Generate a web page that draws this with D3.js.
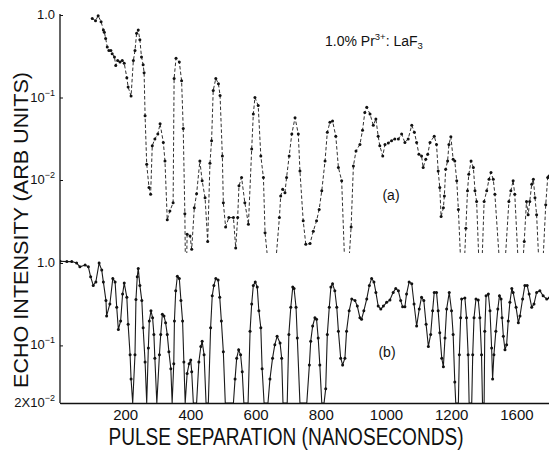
<!DOCTYPE html>
<html lang="en">
<head>
<meta charset="UTF-8">
<title>Echo intensity vs pulse separation</title>
<style>
  body { margin: 0; background: #fff; }
  svg { display: block; font-family: "Liberation Sans", Arial, sans-serif; }
  .curve-a { fill: none; stroke: #1a1a1a; stroke-width: 0.9; stroke-dasharray: 3.5,2.2; }
  .curve-b { fill: none; stroke: #1a1a1a; stroke-width: 1.1; }
  .dot { fill: #111; }
  .lbl { fill: #111; }
</style>
</head>
<body>
<script src="https://d3js.org/d3.v7.min.js"></script>
<script>
// curve (a): pulse separation (ns) and echo intensity, 0.0003 = off scale
const aNs = [99,109,117,126,133,136,140,145,150,156,160,167,171,177,184,191,197,205,209,218,
  225,230,235,240,245,250,255,258,261,266,273,278,283,291,300,307,317,322,329,337,347,
  350,356,366,373,378,383,386,390,399,404,412,419,429,436,445,453,460,465,470,478,486,491,
  498,501,508,518,532,539,545,549,557,567,578,588,593,598,608,616,624,629,651,673,677,683,
  690,695,703,711,721,731,736,746,754,767,777,787,795,803,813,820,828,836,846,854,864,878,
  893,900,908,920,928,935,941,951,961,969,976,981,990,997,1007,1017,1027,1038,1048,1058,
  1068,1079,1087,1094,1101,1109,1114,1122,1128,1135,1148,1155,1160,1165,1169,1176,1179,
  1183,1189,1193,1199,1206,1211,1217,1222,1235,1245,1250,1254,1261,1268,1273,1278,1290,
  1301,1309,1316,1322,1329,1334,1357,1377,1383,1390,1395,1412,1424,1431,1436,1441,1447,
  1452,1457,1462,1475,1490,1496,1500];
const aVal = [0.91,0.85,0.98,0.83,0.66,0.62,0.52,0.41,0.37,0.37,0.34,0.31,0.245,0.28,0.27,0.28,0.26,0.174,0.134,0.104,
  0.28,0.37,0.60,0.66,0.50,0.31,0.25,0.20,0.060,0.0155,0.0081,0.0067,0.026,0.0315,0.036,0.048,0.0285,0.017,0.0033,0.0042,0.0053,
  0.17,0.30,0.27,0.16,0.042,0.0039,0.0003,0.0022,0.0021,0.00145,0.0046,0.0068,0.017,0.0098,0.0061,0.0018,0.016,0.030,0.122,0.17,0.147,0.106,
  0.0196,0.0053,0.0027,0.0035,0.0035,0.0015,0.0035,0.0085,0.0107,0.0053,0.0029,0.0237,0.063,0.10,0.080,0.0196,0.0107,0.0023,0.0003,0.0035,0.0064,0.0077,
  0.0070,0.0107,0.0196,0.036,0.057,0.036,0.0129,0.0032,0.00166,0.0017,0.0024,0.0032,0.0044,0.0074,0.017,0.038,0.050,0.052,0.034,0.0142,0.0098,0.0003,
  0.0027,0.0148,0.0225,0.027,0.040,0.066,0.076,0.063,0.046,0.055,0.034,0.026,0.0196,0.027,0.028,0.030,0.0315,0.0315,0.036,0.0285,
  0.0315,0.046,0.038,0.0285,0.0205,0.0196,0.0142,0.0178,0.0205,0.0285,0.034,0.027,0.0129,0.0081,0.0036,0.0046,0.0064,
  0.0135,0.017,0.027,0.0335,0.0178,0.017,0.0098,0.0044,0.0003,0.0026,0.0074,0.0117,0.017,0.0142,0.0074,0.0055,0.0003,
  0.0055,0.0074,0.0102,0.0123,0.0102,0.0067,0.0003,0.0055,0.0074,0.0098,0.0067,0.0003,0.0018,0.0055,0.0038,0.0055,0.0089,
  0.0102,0.0061,0.0038,0.0003,0.0050,0.0107,0.0112];

// curve (b): 0.02 = down on the axis
const bNs = [0,21,36,51,61,77,87,94,102,110,120,128,133,141,143,153,162,169,174,179,186,192,197,205,209,215,218,223,
  230,233,237,240,245,251,255,261,266,271,274,279,284,288,291,297,305,309,314,319,324,329,334,340,344,
  349,351,355,360,366,371,376,380,384,390,396,401,404,409,419,426,432,436,442,448,455,462,467,472,478,485,490,495,501,507,
  532,537,542,548,554,559,564,577,583,588,593,599,605,610,616,620,626,638,644,652,659,666,675,680,684,
  697,702,708,714,718,724,728,736,757,765,769,775,782,787,792,797,803,810,815,820,826,831,836,843,849,854,861,867,
  874,879,887,895,905,912,920,925,932,941,949,956,963,969,976,984,992,1002,1012,1022,1030,1038,1045,1051,1058,
  1063,1071,1079,1086,1094,1102,1109,1116,1123,1130,1137,1143,1148,1155,1160,1165,1171,1176,1181,1186,1194,1201,1206,
  1211,1214,1222,1225,1229,1232,1242,1247,1252,1255,1263,1266,1270,1276,1283,1288,1293,1296,1301,1303,1307,1314,1319,
  1324,1327,1331,1337,1343,1348,1353,1356,1360,1365,1370,1375,1380,1386,1390,1399,1406,1411,1419,1426,1433,1439,1447,
  1454,1462,1472,1482,1493,1501];
const bVal = [1.05,1.04,1.04,1.0,0.90,0.945,0.90,0.68,0.535,0.59,1.0,0.82,0.59,0.35,0.228,0.318,0.65,0.59,0.29,0.156,0.198,0.42,0.57,0.384,0.18,0.077,0.039,0.02,
  0.077,0.36,0.68,0.86,0.535,0.35,0.164,0.063,0.02,0.093,0.198,0.263,0.217,0.136,0.070,0.02,0.077,0.136,0.239,0.228,0.188,0.136,0.084,0.052,0.02,
  0.060,0.198,0.46,0.69,0.65,0.35,0.198,0.063,0.02,0.0455,0.060,0.0666,0.048,0.02,0.02,0.063,0.097,0.112,0.077,0.02,0.02,0.164,0.40,0.535,0.65,0.62,0.384,0.198,0.084,0.02,
  0.02,0.039,0.070,0.0885,0.077,0.048,0.02,0.02,0.149,0.318,0.535,0.59,0.51,0.263,0.164,0.052,0.02,0.02,0.039,0.070,0.102,0.129,0.107,0.070,0.02,
  0.02,0.136,0.29,0.51,0.49,0.29,0.123,0.02,0.02,0.058,0.112,0.172,0.217,0.207,0.123,0.058,0.02,0.02,0.0297,0.136,0.29,0.51,0.56,0.46,0.29,0.149,0.070,0.058,
  0.070,0.149,0.263,0.366,0.35,0.30,0.217,0.207,0.263,0.366,0.535,0.65,0.59,0.44,0.30,0.276,0.30,0.333,0.356,0.44,0.49,0.46,0.35,0.294,0.294,
  0.42,0.59,0.56,0.318,0.172,0.276,0.384,0.35,0.18,0.097,0.136,0.263,0.44,0.44,0.263,0.142,0.070,0.055,0.123,0.276,0.44,0.263,0.136,
  0.036,0.02,0.02,0.077,0.217,0.366,0.377,0.217,0.077,0.02,0.02,0.077,0.217,0.366,0.356,0.217,0.077,0.02,0.02,0.149,0.40,0.42,0.263,
  0.093,0.039,0.077,0.149,0.276,0.40,0.366,0.217,0.129,0.0885,0.102,0.198,0.333,0.49,0.44,0.29,0.188,0.228,0.366,0.535,0.535,0.42,0.29,
  0.318,0.44,0.46,0.40,0.366,0.377];

const xTicks = [200, 400, 600, 800, 1000, 1200, 1400];
const xTickLabels = ["200", "400", "600", "800", "1000", "1200", "1600"];
const aTicks = [1, 0.1, 0.01];
const aTickBase = ["1.0", "10", "10"];
const aTickSup = ["", "\u22121", "\u22122"];
const bTicks = [1, 0.1, 0.02];
const bTickBase = ["1.0", "10", "2X10"];
const bTickSup = ["", "\u22121", "\u22122"];

const width = 549, height = 452;
const svg = d3.select("body").append("svg")
    .attr("width", width).attr("height", height);

const x = d3.scaleLinear().domain([0, 1500]).range([60, 549]);
const ya = d3.scaleLog().domain([1, 0.01]).range([15, 180]);
const yb = d3.scaleLog().domain([1, 0.02]).range([263, 403]);

// clip regions
const defs = svg.append("defs");
defs.append("clipPath").attr("id", "clipA").append("rect")
    .attr("x", 60).attr("y", 0).attr("width", 489).attr("height", 253);
defs.append("clipPath").attr("id", "clipB").append("rect")
    .attr("x", 60).attr("y", 240).attr("width", 489).attr("height", 163);

const aData = aNs.map((t, i) => [t, aVal[i]]);
const bData = bNs.map((t, i) => [t, bVal[i]]);

// curve (a), dashed
const gA = svg.append("g").attr("clip-path", "url(#clipA)");
gA.append("path")
    .datum(aData)
    .attr("class", "curve-a")
    .attr("d", d3.line().x(d => x(d[0])).y(d => ya(d[1])));
gA.selectAll("circle")
    .data(aData.filter(d => d[1] > 0.0012))
    .enter().append("circle")
    .attr("class", "dot")
    .attr("cx", d => x(d[0]))
    .attr("cy", d => ya(d[1]))
    .attr("r", 1.5);

// curve (b), solid
const gB = svg.append("g").attr("clip-path", "url(#clipB)");
gB.append("path")
    .datum(bData)
    .attr("class", "curve-b")
    .attr("d", d3.line().x(d => x(d[0])).y(d => yb(d[1])));
gB.selectAll("circle")
    .data(bData.filter(d => d[1] > 0.021))
    .enter().append("circle")
    .attr("class", "dot")
    .attr("cx", d => x(d[0]))
    .attr("cy", d => yb(d[1]))
    .attr("r", 1.5);

// axes
svg.append("line")
    .attr("x1", 60).attr("x2", 60).attr("y1", 14).attr("y2", 403)
    .attr("stroke", "#111").attr("stroke-width", 1.3);

const xAxis = d3.axisBottom(x).tickValues(xTicks)
    .tickFormat((d, i) => xTickLabels[i]).tickSize(0).tickPadding(6);
const gx = svg.append("g").attr("transform", "translate(0,403)").call(xAxis);
gx.select(".domain").attr("stroke", "#111").attr("stroke-width", 1.3);
gx.selectAll(".tick text")
    .attr("font-family", "Liberation Sans, Arial, sans-serif")
    .attr("font-size", 15).attr("fill", "#111");

function yTicks(scale, vals, base, sup) {
    const g = svg.append("g").attr("transform", "translate(60,0)")
        .call(d3.axisRight(scale).tickValues(vals).tickSize(3).tickFormat(""));
    g.select(".domain").remove();
    g.selectAll(".tick line").attr("stroke", "#111");
    vals.forEach((v, i) => {
        const t = svg.append("text").attr("class", "lbl")
            .attr("x", 55).attr("y", scale(v) + 4)
            .attr("text-anchor", "end").attr("font-size", 13);
        t.append("tspan").text(base[i]);
        if (sup[i]) t.append("tspan").attr("dy", -6).attr("font-size", 9).text(sup[i]);
    });
}
yTicks(ya, aTicks, aTickBase, aTickSup);
yTicks(yb, bTicks, bTickBase, bTickSup);

// titles
svg.append("text").attr("class", "lbl")
    .attr("transform", "translate(28,230) rotate(-90)")
    .attr("text-anchor", "middle").attr("font-size", 21)
    .attr("textLength", 316).attr("lengthAdjust", "spacingAndGlyphs")
    .text("ECHO INTENSITY (ARB UNITS)");

svg.append("text").attr("class", "lbl")
    .attr("x", 286).attr("y", 445)
    .attr("text-anchor", "middle").attr("font-size", 23)
    .attr("textLength", 355).attr("lengthAdjust", "spacingAndGlyphs")
    .text("PULSE SEPARATION (NANOSECONDS)");

// annotations
const ann = svg.append("text").attr("class", "lbl")
    .attr("x", 325).attr("y", 46).attr("font-size", 14);
ann.append("tspan").text("1.0% Pr");
ann.append("tspan").attr("dy", -6).attr("font-size", 9.5).text("3+");
ann.append("tspan").attr("dy", 6).text(": LaF");
ann.append("tspan").attr("dy", 3).attr("font-size", 9.5).text("3");

svg.append("text").attr("class", "lbl")
    .attr("x", 391).attr("y", 200).attr("text-anchor", "middle")
    .attr("font-size", 14).text("(a)");
svg.append("text").attr("class", "lbl")
    .attr("x", 387).attr("y", 357).attr("text-anchor", "middle")
    .attr("font-size", 14).text("(b)");
</script>
</body>
</html>
